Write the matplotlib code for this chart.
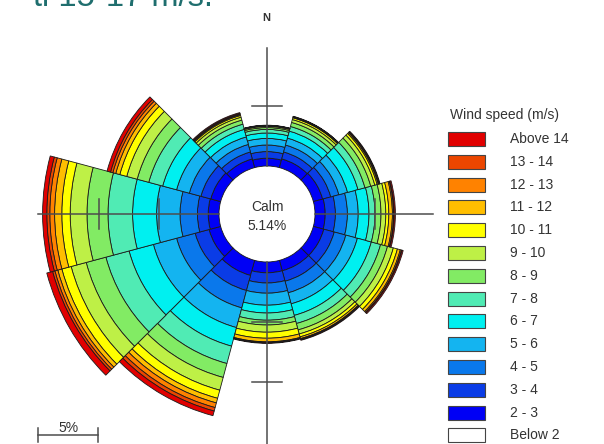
import numpy as np
import matplotlib.pyplot as plt
from matplotlib.patches import Rectangle

plt.rcParams['font.family'] = ['Liberation Sans', 'DejaVu Sans']

# wind directions (sector centres, degrees from north, clockwise)
directions = np.arange(0, 360, 30)
calm = 5.14

speed_labels = ['2 - 3', '3 - 4', '4 - 5', '5 - 6', '6 - 7', '7 - 8', '8 - 9',
                '9 - 10', '10 - 11', '11 - 12', '12 - 13', '13 - 14', 'Above 14']
colors = ['#0000f5', '#0a3ce6', '#0a78eb', '#14b4f0', '#00f0f0', '#50ebb4',
          '#82eb64', '#bef046', '#ffff00', '#ffbe00', '#ff8200', '#eb4600', '#e10000']

# frequency (%) per speed class, one value per direction
s2_3 = [0.65, 0.75, 0.80, 0.85, 0.90, 0.90, 0.90, 1.30, 1.00, 0.90, 0.85, 0.75]
s3_4 = [0.55, 0.60, 0.70, 0.85, 0.90, 0.90, 0.85, 1.30, 1.20, 0.90, 0.85, 0.60]
s4_5 = [0.55, 0.60, 0.70, 1.00, 1.00, 1.00, 0.85, 1.50, 1.60, 1.45, 1.00, 0.65]
s5_6 = [0.55, 0.60, 0.75, 0.90, 1.00, 0.95, 1.00, 1.70, 2.00, 1.95, 1.10, 0.65]
s6_7 = [0.45, 0.60, 0.90, 0.90, 1.20, 1.00, 0.65, 1.60, 2.10, 2.00, 1.20, 0.65]
s7_8 = [0.30, 0.40, 0.60, 0.50, 0.80, 0.70, 0.60, 1.50, 2.00, 2.05, 1.20, 0.45]
s8_9 = [0.15, 0.35, 0.50, 0.50, 0.60, 0.55, 0.40, 1.20, 1.70, 1.75, 1.00, 0.35]
s9_10 = [0.10, 0.25, 0.35, 0.40, 0.50, 0.35, 0.60, 1.10, 1.30, 1.40, 0.90, 0.25]
s10_11 = [0.04, 0.15, 0.20, 0.25, 0.35, 0.25, 0.50, 0.70, 0.80, 0.70, 0.60, 0.15]
s11_12 = [0.02, 0.05, 0.10, 0.30, 0.25, 0.15, 0.30, 0.40, 0.35, 0.60, 0.35, 0.08]
s12_13 = [0.01, 0.03, 0.05, 0.10, 0.10, 0.05, 0.05, 0.40, 0.25, 0.40, 0.25, 0.05]
s13_14 = [0.01, 0.02, 0.04, 0.05, 0.05, 0.03, 0.03, 0.30, 0.20, 0.25, 0.20, 0.04]
above14 = [0.02, 0.03, 0.06, 0.10, 0.10, 0.07, 0.05, 0.40, 0.50, 0.35, 0.30, 0.08]
bands = [s2_3, s3_4, s4_5, s5_6, s6_7, s7_8, s8_9, s9_10, s10_11, s11_12, s12_13, s13_14, above14]

W, H = 604, 444
fig = plt.figure(figsize=(W / 100, H / 100), dpi=100)

# rose centre in pixels, and the half size of the plotting box
cx, cy, half = 267, 214, 240
R = 20.0      # radial units in the half box (12 px per %)
hole = 4.0    # calm circle radius
rect = [(cx - half) / W, (H - cy - half) / H, 2 * half / W, 2 * half / H]

ax = fig.add_axes(rect, projection='polar')
ax.set_theta_zero_location('N')
ax.set_theta_direction(-1)
ax.set_ylim(0, R)
ax.set_axis_off()

theta = np.radians(directions)
bottom = np.full(len(directions), hole)
for vals, col in zip(bands, colors):
    ax.bar(theta, vals, width=np.radians(30), bottom=bottom, color=col,
           edgecolor='#1a1a1a', linewidth=0.6)
    bottom = bottom + np.array(vals)

# overlay for axes cross, ticks, labels
ov = fig.add_axes(rect)
ov.set_xlim(-R, R)
ov.set_ylim(-R, R)
ov.set_aspect('equal')
ov.axis('off')

lc = '#4d4d4d'
lw = 1.1
ov.plot([0, 0], [hole, 13.8], color=lc, lw=lw)
ov.plot([hole, 13.8], [0, 0], color=lc, lw=lw)
ov.plot([-19.1, -hole], [0, 0], color=lc, lw=lw)
ov.plot([0, 0], [-R, -hole], color=lc, lw=lw)
tl = 1.25
ov.plot([-tl, tl], [9, 9], color=lc, lw=lw)
ov.plot([9, 9], [-tl, tl], color=lc, lw=lw)
for r in [9, 14]:
    ov.plot([-r, -r], [-tl, tl], color=lc, lw=lw)
    ov.plot([-tl, tl], [-r, -r], color=lc, lw=lw)

ov.text(0, 0.6, 'Calm', ha='center', va='center', fontsize=10, color='#333333')
ov.text(0, -1.0, f'{calm:.2f}%', ha='center', va='center', fontsize=10, color='#333333')

# scale bar
sy = -18.42
ov.plot([-19.08, -14.08], [sy, sy], color=lc, lw=lw)
for x in [-19.08, -14.08]:
    ov.plot([x, x], [sy - 0.6, sy + 0.6], color=lc, lw=lw)
ov.text(-16.58, -17.83, '5%', ha='center', va='center', fontsize=10, color='#333333')

fig.text(266 / W, 1 - 18 / H, 'N', ha='center', va='center', fontsize=8,
         fontweight='bold', color='#333333')

# legend
fig.text(450 / W, 1 - 115 / H, 'Wind speed (m/s)', va='center', fontsize=10, color='#333333')
leg_labels = speed_labels[::-1] + ['Below 2']
leg_colors = colors[::-1] + ['white']
for i, (lab, col) in enumerate(zip(leg_labels, leg_colors)):
    y = 139 + i * 22.8
    fig.add_artist(Rectangle((448 / W, 1 - (y + 7) / H), 37 / W, 14 / H,
                             transform=fig.transFigure, facecolor=col,
                             edgecolor='#444444', lw=0.8))
    fig.text(510 / W, 1 - y / H, lab, va='center', fontsize=10, color='#333333')

# cut-off heading text from above
fig.text(33 / W, 1 - 6.5 / H, 'ti 15-17 m/s.', va='baseline', fontsize=23.5, color='#1f6e6e')

fig.savefig('out.png', dpi=100)
